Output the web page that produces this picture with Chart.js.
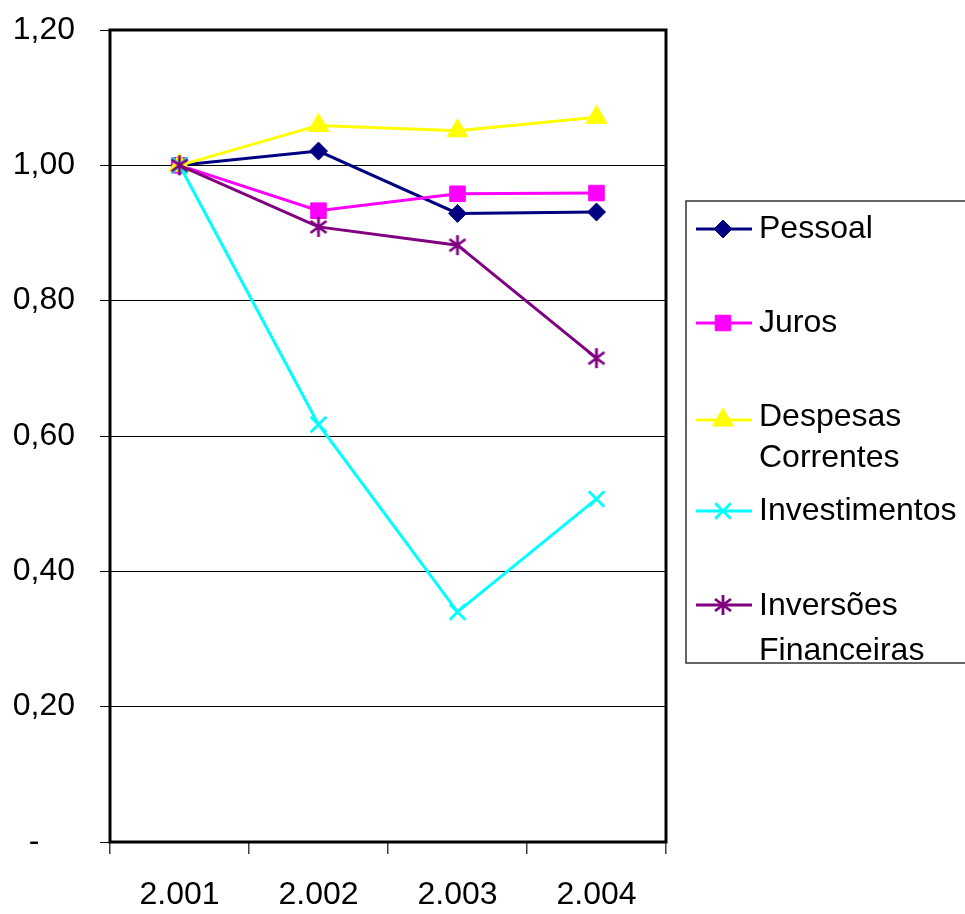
<!DOCTYPE html>
<html>
<head>
<meta charset="utf-8">
<script src="https://cdn.jsdelivr.net/npm/chart.js@4/dist/chart.umd.min.js"></script>
<style>
  html, body { margin: 0; padding: 0; background: #fff; }
  #wrap { width: 965px; height: 914px; position: relative; }
</style>
</head>
<body>
<div id="wrap"><canvas id="c" width="965" height="914"></canvas></div>
<script>
// Index of spending by category, base year 2.001 = 1,00
const years = ['2.001', '2.002', '2.003', '2.004'];
const pessoal       = [1.000, 1.021, 0.929, 0.931];
const juros         = [1.000, 0.933, 0.958, 0.959];
const despesas      = [1.000, 1.059, 1.051, 1.071];
const investimentos = [1.000, 0.617, 0.340, 0.507];
const inversoes     = [1.000, 0.909, 0.882, 0.715];

const seriesNames = ['Pessoal', 'Juros', ['Despesas', 'Correntes'], 'Investimentos', ['Inversões', 'Financeiras']];
const yTickLabels = ['-    ', '0,20', '0,40', '0,60', '0,80', '1,00', '1,20'];

const FONT = "'Liberation Sans', Arial, sans-serif";
Chart.defaults.font.family = FONT;
Chart.defaults.font.size = 32;
Chart.defaults.color = '#000';

// Asterisk marker: vertical stroke plus a diagonal cross
function makeAsterisk(color) {
  const cv = document.createElement('canvas');
  cv.width = 20; cv.height = 22;
  const g = cv.getContext('2d');
  g.strokeStyle = color;
  g.lineWidth = 2.8;
  g.beginPath();
  g.moveTo(10, 1); g.lineTo(10, 21);
  g.moveTo(2, 5); g.lineTo(18, 17);
  g.moveTo(2, 17); g.lineTo(18, 5);
  g.stroke();
  return cv;
}
const asterisk = makeAsterisk('#800080');

function series(label, data, color, style, radius, bw, order) {
  return {
    label, data,
    borderColor: color,
    backgroundColor: color,
    borderWidth: 3,
    pointStyle: style,
    pointRadius: radius,
    pointBackgroundColor: color,
    pointBorderColor: color,
    pointBorderWidth: bw,
    tension: 0,
    order
  };
}

const datasets = [
  series(seriesNames[0], pessoal, '#000080', 'rectRot', 9, 1, 5),
  series(seriesNames[1], juros, '#FF00FF', 'rect', 11, 1, 4),
  series(seriesNames[2], despesas, '#FFFF00', 'triangle', 12, 1, 3),
  series(seriesNames[3], investimentos, '#00FFFF', 'crossRot', 11, 2.8, 2),
  series(seriesNames[4], inversoes, '#800080', asterisk, 10, 1, 1)
];

// Frame around the plot area
const frame = {
  id: 'frame',
  beforeDatasetsDraw(chart) {
    const { ctx, chartArea: a } = chart;
    ctx.save();
    ctx.strokeStyle = '#000';
    ctx.lineWidth = 3;
    ctx.strokeRect(a.left, a.top, a.right - a.left, a.bottom - a.top);
    ctx.restore();
  }
};

// Legend box on the right, with wrapped two-line entries
const legendRows = [
  { line: 229, text: [229] },
  { line: 323, text: [323.5] },
  { line: 420, text: [417, 458.5] },
  { line: 511, text: [511] },
  { line: 605, text: [606, 651] }
];
const sideLegend = {
  id: 'sideLegend',
  afterDraw(chart) {
    const ctx = chart.ctx;
    ctx.save();
    ctx.strokeStyle = '#333';
    ctx.lineWidth = 1.5;
    ctx.strokeRect(686, 201, 320, 462);
    chart.data.datasets.forEach((ds, i) => {
      const row = legendRows[i];
      ctx.strokeStyle = ds.borderColor;
      ctx.lineWidth = 3;
      ctx.beginPath();
      ctx.moveTo(696, row.line);
      ctx.lineTo(752, row.line);
      ctx.stroke();
      ctx.fillStyle = ds.pointBackgroundColor;
      ctx.strokeStyle = ds.pointBorderColor;
      ctx.lineWidth = ds.pointBorderWidth;
      Chart.helpers.drawPoint(ctx, {
        pointStyle: ds.pointStyle, rotation: 0,
        radius: ds.pointRadius, borderWidth: ds.pointBorderWidth
      }, 723, row.line);
      ctx.fillStyle = '#000';
      ctx.font = '32px ' + FONT;
      ctx.textAlign = 'left';
      ctx.textBaseline = 'middle';
      const lines = Array.isArray(ds.label) ? ds.label : [ds.label];
      lines.forEach((t, k) => ctx.fillText(t, 759, row.text[k]));
    });
    ctx.restore();
  }
};

new Chart(document.getElementById('c'), {
  type: 'line',
  data: { labels: years, datasets },
  options: {
    responsive: false,
    animation: false,
    devicePixelRatio: 1,
    layout: { padding: { top: 30, right: 299, bottom: 0, left: 0 } },
    plugins: { legend: { display: false }, tooltip: { enabled: false } },
    scales: {
      x: {
        type: 'category',
        offset: true,
        grid: { offset: true, drawOnChartArea: false, tickLength: 12, color: '#404040', lineWidth: 1.5 },
        border: { display: false },
        ticks: { padding: 22, font: { size: 32 } },
        afterFit(scale) { scale.height = 72; scale.paddingLeft = 0; scale.paddingRight = 0; }
      },
      y: {
        min: 0, max: 1.2,
        grid: { color: '#000', lineWidth: 1, tickLength: 10 },
        border: { display: false },
        ticks: {
          stepSize: 0.2,
          padding: 25,
          font: { size: 32 },
          callback: (v, i) => yTickLabels[i]
        },
        afterFit(scale) { scale.width = 110; scale.paddingTop = 0; scale.paddingBottom = 0; }
      }
    }
  },
  plugins: [frame, sideLegend]
});
</script>
</body>
</html>
